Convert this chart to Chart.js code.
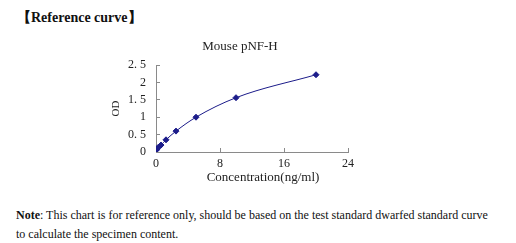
<!DOCTYPE html>
<html>
<head>
<meta charset="utf-8">
<script src="https://cdn.jsdelivr.net/npm/chart.js@4.4.1/dist/chart.umd.min.js"></script>
<style>
  html, body { margin: 0; padding: 0; background: #fff; }
  body { width: 516px; height: 243px; position: relative; overflow: hidden; font-family: "Liberation Serif", serif; color: #111; }
  #head { position: absolute; left: 17px; top: 9px; font-size: 14px; font-weight: bold; }
  #note { position: absolute; left: 16px; top: 206px; font-size: 12px; line-height: 19px; }
  #wrap { position: absolute; left: 0; top: 0; width: 516px; height: 200px; }
</style>
</head>
<body>
<div id="head">【Reference curve】</div>
<div id="wrap"><canvas id="curve"></canvas></div>
<div id="note"><b>Note</b>: This chart is for reference only, should be based on the test standard dwarfed standard curve<br>to calculate the specimen content.</div>
<script>
// standard curve points (ng/ml -> OD)
const concentrations = [0, 0.156, 0.312, 0.625, 1.25, 2.5, 5, 10, 20];
const odValues = [0.05, 0.09, 0.14, 0.2, 0.35, 0.6, 1.0, 1.56, 2.22];
const xTicks = [0, 8, 16, 24];
const yTickLabels = ['0', '0. 5', '1', '1. 5', '2', '2. 5'];
const chartTitle = 'Mouse pNF-H';
const xTitle = 'Concentration(ng/ml)';
const yTitle = 'OD';

const navy = '#1c1c8a';
const axisGray = '#8a8a8a';
const textColor = '#222';
const serif = '"Liberation Serif", serif';

// chart title and x caption sit off-centre in the original, so draw them by hand
const captions = {
    id: 'captions',
    afterDraw(chart) {
        const { ctx, chartArea } = chart;
        ctx.save();
        ctx.fillStyle = textColor;
        ctx.textAlign = 'center';
        ctx.textBaseline = 'middle';
        ctx.font = '13px ' + serif;
        ctx.fillText(chartTitle, chartArea.left + 84, chartArea.top - 18);
        ctx.fillText(xTitle, chartArea.left + 107, chartArea.bottom + 26);
        ctx.restore();
    }
};

const ctx = document.getElementById('curve').getContext('2d');
new Chart(ctx, {
    type: 'scatter',
    data: {
        datasets: [{
            data: concentrations.map((x, i) => ({ x: x, y: odValues[i] })),
            showLine: true,
            borderColor: navy,
            backgroundColor: navy,
            borderWidth: 1,
            cubicInterpolationMode: 'monotone',
            pointStyle: 'rectRot',
            pointRadius: 3,
            pointHoverRadius: 3
        }]
    },
    options: {
        responsive: true,
        maintainAspectRatio: false,
        animation: false,
        events: [],
        layout: { padding: { left: 106, right: 168, top: 65, bottom: 8 } },
        plugins: {
            legend: { display: false },
            tooltip: { enabled: false },
            title: { display: false }
        },
        scales: {
            x: {
                type: 'linear',
                min: 0,
                max: 24,
                afterFit: (scale) => { scale.height = 40; },
                afterBuildTicks: (scale) => { scale.ticks = xTicks.map((v) => ({ value: v })); },
                border: { color: axisGray, width: 1 },
                grid: { drawOnChartArea: false, tickLength: -4, color: axisGray },
                ticks: { padding: 9, color: textColor, font: { family: serif, size: 12 }, maxRotation: 0 }
            },
            y: {
                type: 'linear',
                min: 0,
                max: 2.5,
                afterFit: (scale) => { scale.width = 50; },
                border: { color: axisGray, width: 1 },
                grid: { drawOnChartArea: false, tickLength: -4, color: axisGray },
                ticks: {
                    stepSize: 0.5,
                    padding: 14,
                    color: textColor,
                    font: { family: serif, size: 12 },
                    callback: (value) => yTickLabels[Math.round(value * 2)]
                },
                title: {
                    display: true,
                    text: yTitle,
                    color: textColor,
                    font: { family: serif, size: 11 },
                    padding: { top: 4, bottom: 0 }
                }
            }
        }
    },
    plugins: [captions]
});
</script>
</body>
</html>
